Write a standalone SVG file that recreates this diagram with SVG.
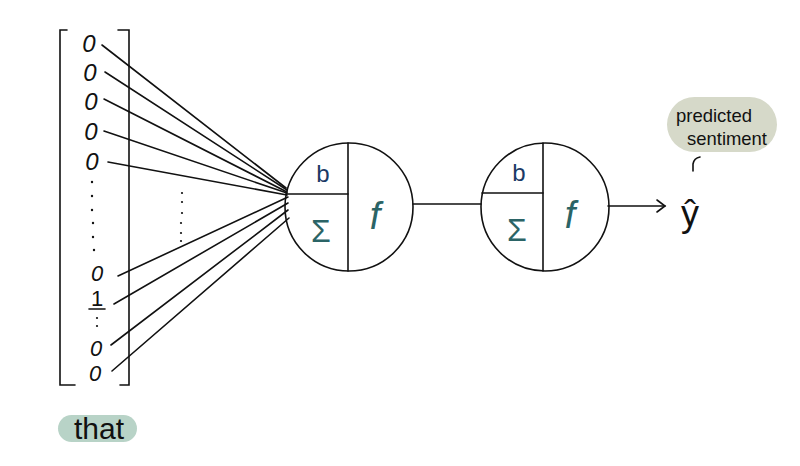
<svg xmlns="http://www.w3.org/2000/svg" width="800" height="466" viewBox="0 0 800 466">
<style>
.ln{stroke:#111;stroke-width:1.6;fill:none;stroke-linecap:round}
.dig{font-family:"Liberation Sans",Arial,sans-serif;font-size:24px;fill:#111;text-anchor:middle}
.sm{font-size:22px}
.b{font-family:"Liberation Sans",Arial,sans-serif;font-size:24px;fill:#1b3a66;text-anchor:middle}
.tl{font-family:"Liberation Sans",Arial,sans-serif;fill:#2b6466;text-anchor:middle}
.lbl{font-family:"Liberation Sans",Arial,sans-serif;fill:#111;text-anchor:middle}
.dot{fill:#111}
</style>
<rect width="800" height="466" fill="#fff"/>
<g id="input-vector">
<path class="ln" d="M67,30 H60 V385 H75"/>
<path class="ln" d="M118,30 H129 V385 H120"/>
<text class="dig" x="89" y="52" font-style="italic">0</text>
<text class="dig" x="90" y="81" font-style="italic">0</text>
<text class="dig" x="91" y="110" font-style="italic">0</text>
<text class="dig" x="91" y="140" font-style="italic">0</text>
<text class="dig" x="92" y="170" font-style="italic">0</text>
<circle class="dot" cx="92" cy="182" r="1.2"/>
<circle class="dot" cx="92" cy="196" r="1.2"/>
<circle class="dot" cx="92" cy="210" r="1.2"/>
<circle class="dot" cx="93" cy="223" r="1.2"/>
<circle class="dot" cx="93" cy="237" r="1.2"/>
<circle class="dot" cx="94" cy="250" r="1.2"/>
<text class="dig sm" x="97" y="281" font-style="italic">0</text>
<text class="dig sm" x="97" y="306">1</text>
<line class="ln" x1="89" y1="309" x2="105" y2="309"/>
<circle class="dot" cx="97" cy="318" r="1.1"/>
<circle class="dot" cx="97" cy="326" r="1.1"/>
<text class="dig sm" x="96" y="356" font-style="italic">0</text>
<text class="dig sm" x="95" y="381" font-style="italic">0</text>
</g>
<g id="that-label">
<rect x="58" y="415" width="79" height="27" rx="13.5" fill="#b8d3c7"/>
<text class="lbl" x="99" y="439" font-size="30">that</text>
</g>
<g id="connectors">
<line class="ln" x1="102" y1="45" x2="286" y2="188"/>
<line class="ln" x1="105" y1="72" x2="287" y2="190"/>
<line class="ln" x1="104" y1="99" x2="287" y2="192"/>
<line class="ln" x1="104" y1="131" x2="287" y2="193"/>
<line class="ln" x1="108" y1="162" x2="287" y2="195"/>
<line class="ln" x1="118" y1="276" x2="288" y2="197"/>
<line class="ln" x1="114" y1="304" x2="288" y2="203"/>
<line class="ln" x1="111" y1="345" x2="288" y2="210"/>
<line class="ln" x1="112" y1="371" x2="289" y2="218"/>
<line class="ln" x1="413" y1="204" x2="481" y2="204"/>
<line class="ln" x1="608" y1="206" x2="665" y2="206"/>
<path class="ln" d="M657,200 L665,206 L657,212"/>
</g>
<g id="hidden-dots">
<circle class="dot" cx="182" cy="193" r="1.1"/>
<circle class="dot" cx="182" cy="202" r="1.1"/>
<circle class="dot" cx="182" cy="213" r="1.1"/>
<circle class="dot" cx="181" cy="223" r="1.1"/>
<circle class="dot" cx="181" cy="233" r="1.1"/>
<circle class="dot" cx="181" cy="241" r="1.1"/>
</g>
<g id="neuron1">
<circle class="ln" cx="349" cy="207" r="64"/>
<line class="ln" x1="348" y1="143" x2="348" y2="271"/>
<line class="ln" x1="286" y1="194" x2="348" y2="194"/>
<text class="b" x="323" y="182">b</text>
<text class="tl" x="321" y="242" font-size="32">Σ</text>
<text class="tl" x="375" y="229" font-size="38" font-style="italic">f</text>
</g>
<g id="neuron2">
<circle class="ln" cx="545" cy="207" r="64"/>
<line class="ln" x1="543" y1="143" x2="543" y2="271"/>
<line class="ln" x1="482" y1="193" x2="543" y2="193"/>
<text class="b" x="519" y="181">b</text>
<text class="tl" x="517" y="241" font-size="32">Σ</text>
<text class="tl" x="570" y="228" font-size="38" font-style="italic">f</text>
</g>
<g id="output">
<text class="lbl" x="690" y="226" font-size="36">ŷ</text>
<path class="ln" d="M693,171 V164 Q694,158 700,157"/>
</g>
<g id="predicted-sentiment">
<rect x="667" y="97" width="110" height="55" rx="27.5" fill="#d6d9c9"/>
<text class="lbl" x="714" y="122" font-size="19" textLength="76" lengthAdjust="spacingAndGlyphs">predicted</text>
<text class="lbl" x="727" y="145" font-size="19" textLength="80" lengthAdjust="spacingAndGlyphs">sentiment</text>
</g>
</svg>
